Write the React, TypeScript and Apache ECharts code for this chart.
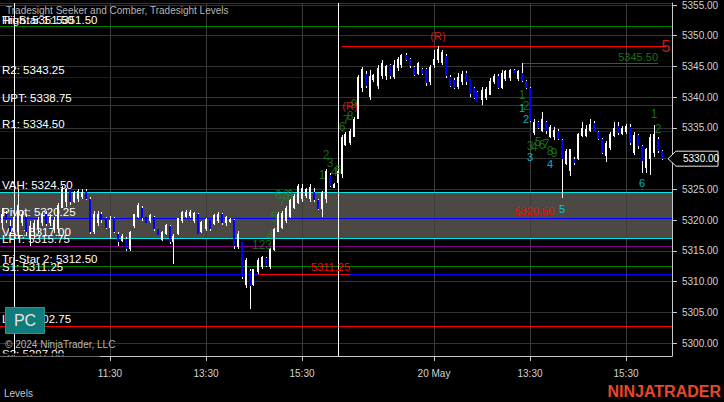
import React, { useEffect, useRef } from 'react';
import * as echarts from 'echarts';

// ---------- data ----------
// [open, close, low, high]
const day1Bars: number[][] = [
  [5319.5, 5321, 5318.5, 5322], [5321, 5320, 5319.5, 5321.5], [5319, 5318, 5317.5, 5320], [5318, 5320.5, 5317.5, 5321],
  [5318, 5322.5, 5317, 5325], [5319.5, 5321, 5319, 5321.5], [5320.5, 5318, 5317.5, 5321], [5317, 5319, 5315.8, 5319.8],
  [5318, 5319.5, 5317, 5320], [5318.5, 5320, 5317.8, 5320.5], [5319.5, 5321, 5319, 5321.3], [5321, 5319.3, 5319, 5321.5],
  [5319.5, 5320.5, 5319, 5321], [5318.5, 5320, 5317.9, 5320.5], [5318.5, 5322.5, 5317.9, 5322.8], [5322, 5325, 5322, 5325.5],
  [5323, 5325, 5322.2, 5325.2], [5325, 5323, 5322.5, 5325], [5323, 5324.5, 5322.8, 5324.8], [5323.5, 5324.8, 5323, 5325],
  [5323.8, 5324.6, 5323.5, 5325], [5324.8, 5323.5, 5323.3, 5325], [5323.5, 5318, 5317.7, 5323.7], [5318, 5321, 5317.7, 5321.5],
  [5319.5, 5321, 5319, 5321.5], [5321, 5320, 5319.5, 5321.4], [5320.3, 5318.8, 5318.6, 5320.5], [5318.8, 5320, 5317, 5320.6],
  [5320.3, 5318, 5317.9, 5320.5], [5317.8, 5316.5, 5315.8, 5318], [5316.6, 5317.5, 5316.5, 5317.8], [5317, 5315.3, 5315, 5317.2],
  [5315.3, 5318, 5315, 5318.3], [5319, 5321, 5318.8, 5321], [5320.5, 5322.5, 5320.3, 5322.8], [5322, 5320.3, 5319.9, 5322.3],
  [5320.5, 5319.6, 5319.5, 5320.5], [5319.8, 5320.8, 5319.5, 5321], [5320.5, 5318.5, 5318.3, 5320.6], [5318.5, 5317.6, 5317.6, 5318.6],
  [5316.8, 5318, 5316.6, 5318.3], [5317.8, 5319.2, 5317.6, 5319.3], [5319, 5316.5, 5316.2, 5319.2], [5316.5, 5317.5, 5312.9, 5317.8],
  [5317.7, 5320.3, 5317.6, 5320.4], [5319.8, 5321.3, 5319.6, 5321.5], [5320.5, 5321.4, 5320.3, 5321.6], [5320.7, 5321.3, 5320.4, 5321.6],
  [5319.8, 5321.2, 5319.5, 5321.3], [5321, 5317.8, 5317.7, 5321.2], [5318, 5319.7, 5317.9, 5319.9], [5318.5, 5320.2, 5318.2, 5320.4],
  [5320, 5318.5, 5318.2, 5320], [5319.3, 5320.8, 5319.2, 5321], [5319.9, 5321, 5319.6, 5321.3], [5321, 5319.5, 5319.2, 5321.2],
  [5319.5, 5320.5, 5319, 5320.7], [5319.7, 5320.2, 5319.5, 5320.4], [5320, 5315.8, 5315.3, 5320.2], [5315.6, 5317.8, 5315.3, 5318.2],
  [5316.5, 5310.8, 5310.5, 5316.5], [5309.5, 5313.5, 5309, 5313.8], [5311.8, 5309.3, 5305.6, 5312], [5309.5, 5312, 5309.3, 5312],
  [5311.5, 5313.5, 5311.25, 5313.9], [5312.3, 5314, 5312.1, 5314.2], [5313.8, 5312.5, 5312.3, 5314], [5312.3, 5315.3, 5312.1, 5315.5],
  [5315.2, 5318.5, 5315, 5318.8], [5318, 5321, 5318, 5321.4], [5318.8, 5321.2, 5318.5, 5321.5], [5319.8, 5322, 5319.5, 5322.3],
  [5320.5, 5323.3, 5320.3, 5323.5], [5322, 5324, 5321.8, 5324.2], [5322.8, 5325.5, 5322.6, 5325.8], [5323.5, 5325.3, 5323, 5325.8],
  [5324, 5325, 5323.6, 5325.2], [5323.5, 5325.4, 5323, 5325.8], [5324.5, 5323.3, 5323, 5325.2], [5323.3, 5321.8, 5321.6, 5323.5],
  [5321.8, 5324.5, 5320.5, 5324.7], [5323.5, 5328, 5322.8, 5328.4], [5327.4, 5325.6, 5325.4, 5327.7], [5325.3, 5325.8, 5325.2, 5326],
];

const day2Bars: number[][] = [
  [5326, 5328, 5325.6, 5328.5], [5327.5, 5333.5, 5326.8, 5333.8], [5332.3, 5334, 5332, 5334.3], [5332.5, 5334.5, 5332.3, 5334.8],
  [5333.5, 5336.5, 5333.5, 5336.8], [5336.5, 5343.3, 5336.5, 5343.6], [5341.5, 5344.6, 5340.8, 5344.9], [5343.7, 5341.8, 5341.5, 5344.3],
  [5340, 5343.5, 5339.5, 5344.4], [5342.8, 5343.6, 5342.5, 5343.8], [5341.8, 5344.8, 5341.3, 5345.2], [5343.4, 5345.6, 5343, 5346],
  [5343.5, 5345, 5342.8, 5345.3], [5345.2, 5343.5, 5343, 5345.4], [5343.3, 5345.3, 5342.9, 5346], [5344.8, 5346.2, 5344.3, 5346.5],
  [5345.3, 5346.8, 5344.8, 5347], [5346.9, 5346, 5345.9, 5347.2], [5346.2, 5345, 5344.8, 5346.3], [5344.9, 5343.6, 5343.4, 5345],
  [5343.8, 5345.5, 5343.6, 5345.7], [5344.6, 5343.8, 5343.6, 5344.8], [5344.6, 5342.3, 5341.9, 5344.8], [5342.4, 5344.9, 5342, 5345.3],
  [5345.2, 5346.2, 5344.7, 5347.6], [5346, 5347.8, 5345.6, 5348.25], [5345.5, 5347.3, 5345.2, 5347.6], [5346.7, 5343.4, 5343.2, 5347],
  [5343.3, 5341.8, 5341.6, 5343.6], [5342.8, 5341.5, 5341.3, 5343.2], [5341.6, 5343.3, 5341.3, 5344], [5342.4, 5343.7, 5342, 5344.3],
  [5344, 5342.5, 5342, 5344.3], [5342.9, 5340.5, 5340, 5343], [5341.5, 5339.9, 5339.7, 5341.6], [5340.8, 5339.3, 5339.2, 5341],
  [5339.6, 5341.2, 5338.7, 5341.6], [5339.8, 5341.3, 5339.5, 5341.6], [5340.3, 5342.7, 5340.3, 5343.2], [5342.5, 5343.5, 5342.1, 5343.7],
  [5343.5, 5341.5, 5341.3, 5343.8], [5341.5, 5344, 5341.3, 5344.4], [5343, 5344.2, 5342.7, 5344.4], [5343.2, 5344.4, 5342.7, 5344.6],
  [5344.5, 5344, 5343.9, 5344.6], [5343, 5344.2, 5342.7, 5344.4], [5344, 5342.7, 5342.4, 5345.5], [5342.7, 5341.5, 5341.3, 5342.8],
  [5341.5, 5336.2, 5336, 5341.6], [5334.2, 5336, 5333.9, 5336.4], [5336, 5335, 5334.8, 5336.2], [5334.5, 5336.5, 5334.3, 5337.6],
  [5336, 5334.5, 5334, 5336.2], [5333.6, 5335.2, 5333.3, 5335.5], [5333.5, 5334.6, 5333.1, 5335.1], [5334.5, 5333.2, 5333, 5334.8],
  [5333, 5330, 5323.6, 5333.2], [5329.2, 5331.3, 5329, 5331.6], [5328, 5331.5, 5327.2, 5331.6], [5330, 5329.3, 5329, 5330.3],
  [5330, 5334, 5329.8, 5334.2], [5333.7, 5335, 5333.5, 5336], [5333.7, 5334.8, 5333.5, 5335.5], [5334.5, 5335.7, 5334.3, 5336.4],
  [5335.8, 5334.4, 5334.3, 5336.2], [5334.4, 5333.2, 5333, 5334.5], [5333.2, 5331, 5330.8, 5333.4], [5330.5, 5332.5, 5329.5, 5332.8],
  [5331.8, 5334, 5331.4, 5334.3], [5333.7, 5335, 5333.5, 5336], [5335.3, 5334.2, 5333.9, 5336], [5334, 5335, 5333.8, 5335.3],
  [5334.3, 5335.3, 5334, 5335.6], [5335.2, 5332.5, 5332.2, 5335.6], [5331, 5333.9, 5330.6, 5334.3], [5333.9, 5332, 5331.6, 5334],
  [5332, 5329.7, 5327.6, 5332.2], [5328.5, 5331.5, 5327.6, 5331.7], [5330, 5333.5, 5327.4, 5334], [5331, 5334, 5330.3, 5335.5],
  [5333.2, 5331.2, 5331, 5333.5], [5331.2, 5330, 5329.8, 5331.4],
];

// x-axis tick labels (category index -> label)
const tickIndices = [27, 51, 75, 108, 132, 156];
const tickLabels = ['11:30', '13:30', '15:30', '20 May', '13:30', '15:30'];
const sessionStartIndices = [3, 84];

// full-width levels: [value, label, color]
const levelLines: [number, string, string][] = [
  [5351.5, 'High: 5351.50', '#ff0000'],
  [5351.5, 'Tri-Star 1: 5351.50', '#008000'],
  [5343.25, 'R2: 5343.25', '#0000ff'],
  [5338.75, 'UPT: 5338.75', '#800080'],
  [5334.5, 'R1: 5334.50', '#0000ff'],
  [5324.5, 'VAH: 5324.50', '#00e6e6'],
  [5320.25, 'Pivot: 5320.25', '#0000ff'],
  [5317.0, 'VAL: 5317.00', '#00e6e6'],
  [5315.75, 'LPT: 5315.75', '#800080'],
  [5312.5, 'Tri-Star 2: 5312.50', '#008000'],
  [5311.25, 'S1: 5311.25', '#0000ff'],
  [5302.75, 'Low: 5302.75', '#ff0000'],
];
const valueArea = [5317.0, 5324.5];

// partial lines: [startIndex, endIndex, value, label, color]
const partialLines: [number, number, number, string, string][] = [
  [85, 166, 5348.25, '', '#ff0000'],
  [130, 164, 5345.5, '5345.50', '#1c6e1c'],
  [80, 138, 5320.5, '5320.50', '#ff0000'],
  [64, 87, 5311.25, '5311.25', '#ff0000'],
];

// seeker / comber counts: [index, price, text]
const greenCounts: [number, number, string][] = [
  [65, 5316.0, '123'], [67, 5317.4, '4'], [68, 5320.5, '5'], [69, 5324.1, '6'], [70, 5322.9, '7'], [71, 5324.1, '8'], [72, 5324.1, '9'],
  [80, 5327.4, '1'], [81, 5330.6, '2'], [82, 5329.3, '3'], [83, 5327.9, '4'], [84, 5328.2, '6'],
  [85, 5335.1, '6'], [86, 5336.3, '7'], [87, 5336.9, '8'], [88, 5338.9, '9'],
  [130, 5340.3, '1'], [131, 5338.5, '2'], [132, 5332.1, '3'], [133, 5331.9, '4'], [134, 5332.7, '5'], [135, 5332.3, '6'],
  [136, 5332.4, '7'], [137, 5331.3, '8'], [138, 5331.0, '9'],
  [163, 5337.3, '1'], [164, 5334.8, '2'],
];
const cyanCounts: [number, number, string][] = [
  [130, 5338.2, '1'], [131, 5336.5, '2'], [132, 5330.2, '3'], [137, 5329.2, '4'], [140, 5321.8, '5'], [160, 5326.0, '6'],
];
const redMarks: [number, number, string][] = [
  [87, 5338.5, '(R)'], [109, 5349.9, '(R)'],
];
const targetMark: [number, number, string] = [166, 5348.25, '5'];

const yMin = 5297.9;
const yMax = 5355.32;
const lastPrice = 5330.0;

// ---------- categories ----------
function hhmm(m: number) {
  const h = Math.floor(m / 60);
  const mm = m % 60;
  return `${h < 10 ? '0' : ''}${h}:${mm < 10 ? '0' : ''}${mm}`;
}
const categories: string[] = [];
for (let k = 0; k < 3; k++) categories.push(`16 May ${hhmm(16 * 60 + k * 5)}`);
for (let k = 0; k < 81; k++) categories.push(`17 May ${hhmm(570 + k * 5)}`);
for (let k = 0; k < 84; k++) categories.push(`20 May ${hhmm(570 + k * 5)}`);

const FONT = '"Liberation Sans", Arial, sans-serif';

export default function App() {
  const ref = useRef<HTMLDivElement>(null);

  useEffect(() => {
    document.body.style.margin = '0';
    document.body.style.background = '#000';
    if (!ref.current) return;
    const chart = echarts.init(ref.current, undefined, { renderer: 'svg' });

    const bars = [...day1Bars, ...day2Bars];
    const showTick = (i: number) => tickIndices.includes(i);

    const levelData: any[] = levelLines.map(([v, text, color]) => ({
      yAxis: v,
      lineStyle: { color, width: 1, type: 'solid' },
      label: {
        show: true,
        formatter: text,
        position: 'insideStartTop',
        color: '#ffffff',
        fontSize: 11.5,
        fontFamily: FONT,
        distance: [2, 1],
      },
    }));
    const partialData: any[] = partialLines.map(([s, e, v, text, color]) => [
      {
        coord: [s, v],
        lineStyle: { color, width: 1, type: 'solid' },
        label: {
          show: text !== '',
          formatter: text,
          position: 'insideEndTop',
          color,
          fontSize: 11,
          fontFamily: FONT,
          distance: [0, 1],
        },
      },
      { coord: [e, v] },
    ]);
    const gridV: any[] = tickIndices.map((i) => ({
      xAxis: i,
      lineStyle: { color: '#3c3c3c', width: 1, type: 'solid' },
      label: { show: false },
    }));
    const sessionV: any[] = sessionStartIndices.map((i) => ({
      xAxis: i,
      lineStyle: { color: '#ffffff', width: 1, type: 'solid' },
      label: { show: false },
    }));

    const textSeries = (data: [number, number, string][], color: string, size: number, z: number) => ({
      type: 'scatter',
      z,
      silent: true,
      symbolSize: 1,
      itemStyle: { color: 'rgba(0,0,0,0)' },
      data: data.map(([i, p, t]) => ({ value: [i, p], name: t })),
      label: {
        show: true,
        position: 'inside',
        formatter: '{b}',
        color,
        fontSize: size,
        fontFamily: FONT,
      },
    });

    const renderCandle = (_params: any, api: any) => {
      const i = api.value(0);
      const o = api.value(1);
      const c = api.value(2);
      const l = api.value(3);
      const h = api.value(4);
      const [cx, yo] = api.coord([i, o]);
      const yc = api.coord([i, c])[1];
      const yl = Math.round(api.coord([i, l])[1]);
      const yh = Math.round(api.coord([i, h])[1]);
      const px = Math.floor(cx);
      const top = Math.round(Math.min(yo, yc));
      const bot = Math.round(Math.max(yo, yc));
      const up = c >= o;
      return {
        type: 'group',
        children: [
          {
            type: 'rect',
            shape: { x: px, y: yh, width: 1, height: Math.max(1, yl - yh) },
            style: { fill: '#ffffff' },
          },
          {
            type: 'rect',
            shape: { x: px - 1, y: top, width: 2, height: Math.max(1, bot - top) },
            style: { fill: up ? '#ffffff' : '#0000ff' },
          },
        ],
      };
    };

    const option: any = {
      animation: false,
      backgroundColor: '#000000',
      textStyle: { fontFamily: FONT },
      title: {
        text: 'Tradesight Seeker and Comber, Tradesight Levels',
        left: 6,
        top: 5,
        padding: 0,
        textStyle: { color: '#b4b4b4', fontSize: 10, fontWeight: 'normal', fontFamily: FONT },
      },
      grid: { left: 0, right: 52, top: 0, bottom: 46 },
      xAxis: {
        type: 'category',
        data: categories,
        boundaryGap: true,
        axisLine: { show: true, lineStyle: { color: '#c8c8c8' } },
        axisTick: { show: true, interval: (i: number) => showTick(i), alignWithLabel: true, length: 5, lineStyle: { color: '#c8c8c8' } },
        axisLabel: {
          interval: (i: number) => showTick(i),
          formatter: (_v: string, i: number) => {
            const k = tickIndices.indexOf(i);
            return k >= 0 ? tickLabels[k] : '';
          },
          color: '#d2d2d2',
          fontSize: 10,
          margin: 12,
        },
        splitLine: { show: false },
      },
      yAxis: {
        type: 'value',
        position: 'right',
        min: yMin,
        max: yMax,
        splitNumber: 11,
        scale: true,
        axisLine: { show: true, lineStyle: { color: '#c8c8c8' } },
        axisTick: { show: true, length: 5, lineStyle: { color: '#c8c8c8' } },
        axisLabel: {
          showMinLabel: false,
          showMaxLabel: false,
          color: '#d2d2d2',
          fontSize: 10,
          margin: 10,
          formatter: (v: number) => {
            const r = Math.round(v / 5) * 5;
            return Math.abs(v - r) < 1e-6 ? v.toFixed(2) : '';
          },
        },
        splitLine: { show: true, lineStyle: { color: '#333333' } },
      },
      series: [
        {
          name: 'OHLC',
          type: 'custom',
          z: 3,
          silent: true,
          renderItem: renderCandle,
          data: bars.map((b, i) => [i, ...b]),
          encode: { x: 0, y: [1, 2, 3, 4] },
          markArea: {
            z: 1,
            silent: true,
            itemStyle: { color: '#4c4944', opacity: 1 },
            data: [[{ yAxis: valueArea[0] }, { yAxis: valueArea[1] }]],
          },
          markLine: {
            z: 2,
            silent: true,
            symbol: 'none',
            animation: false,
            precision: 2,
            data: [...gridV, ...levelData, ...partialData, ...sessionV],
          },
        },
        textSeries(greenCounts, '#1e8a1e', 12, 5),
        textSeries(cyanCounts, '#00e0ea', 11, 5),
        textSeries(redMarks, '#ff2020', 11, 5),
        textSeries([targetMark], '#ff2020', 16, 5),
      ],
    };

    chart.setOption(option);

    const py = chart.convertToPixel({ yAxisIndex: 0 }, lastPrice) as number;
    const px = chart.convertToPixel({ xAxisIndex: 0 }, categories.length - 1) as number;
    const axisX = px + 2;

    chart.setOption({
      graphic: {
        elements: [
          {
            type: 'text',
            z: 99,
            left: 2,
            top: 348,
            style: { text: 'S2: 5297.00', fill: '#ffffff', fontSize: 11.5, fontFamily: FONT },
          },
          {
            type: 'rect',
            z: 100,
            shape: { x: 0, y: 353.5, width: 100, height: 2 },
            style: { fill: '#000000' },
          },
          {
            type: 'rect',
            z: 100,
            shape: { x: 0, y: 356.5, width: 100, height: 10 },
            style: { fill: '#000000' },
          },
          {
            type: 'text',
            z: 101,
            left: 5,
            top: 339,
            style: { text: '© 2024 NinjaTrader, LLC', fill: '#b4b4b4', fontSize: 10, fontFamily: FONT },
          },
          {
            type: 'rect',
            z: 101,
            shape: { x: 5.5, y: 307.5, width: 39, height: 26 },
            style: { fill: '#0f7b7b', stroke: '#2a9494', lineWidth: 1 },
          },
          {
            type: 'text',
            z: 102,
            x: 25,
            y: 320.5,
            style: { text: 'PC', fill: '#e6e6e6', fontSize: 16, fontFamily: FONT, align: 'center', verticalAlign: 'middle' },
          },
          {
            type: 'text',
            z: 101,
            left: 4,
            top: 388,
            style: { text: 'Levels', fill: '#c8c8c8', fontSize: 10, fontFamily: FONT },
          },
          {
            type: 'text',
            z: 101,
            right: 3,
            top: 383,
            style: { text: 'NINJATRADER', fill: '#e8482a', fontSize: 16, fontWeight: 'bold', fontFamily: FONT },
          },
          {
            type: 'polygon',
            z: 101,
            shape: {
              points: [
                [axisX - 4, py],
                [axisX + 4, py - 7.5],
                [axisX + 46, py - 7.5],
                [axisX + 46, py + 7.5],
                [axisX + 4, py + 7.5],
              ],
            },
            style: { fill: '#000000', stroke: '#e6e6e6', lineWidth: 1 },
          },
          {
            type: 'text',
            z: 102,
            x: axisX + 11,
            y: py,
            style: { text: lastPrice.toFixed(2), fill: '#ffffff', fontSize: 10, fontFamily: FONT, verticalAlign: 'middle' },
          },
        ],
      },
    });

    return () => chart.dispose();
  }, []);

  return (
    <div
      ref={ref}
      style={{ position: 'fixed', left: 0, top: 0, width: 724, height: 402, background: '#000' }}
    />
  );
}
